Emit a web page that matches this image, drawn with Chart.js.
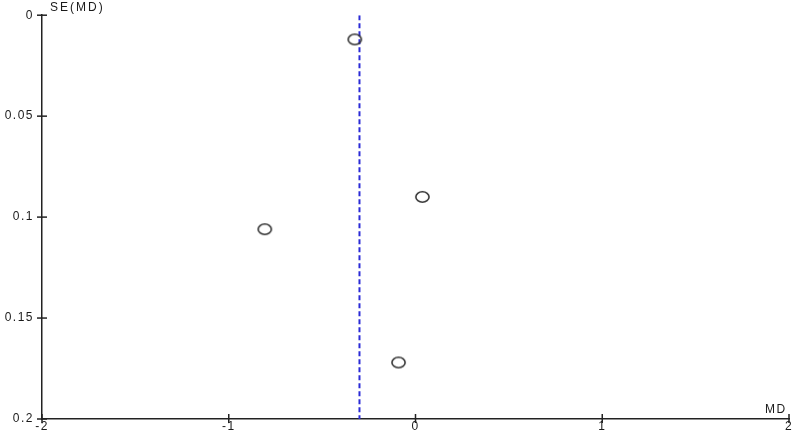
<!DOCTYPE html>
<html>
<head>
<meta charset="utf-8">
<script src="https://cdn.jsdelivr.net/npm/chart.js@4"></script>
<style>
  html, body { margin: 0; padding: 0; background: #fff; }
  #wrap { width: 797px; height: 438px; }
</style>
</head>
<body>
<div id="wrap"><canvas id="chart" width="797" height="438"></canvas></div>
<script>
// study estimates
const md = [-0.325, 0.037, -0.807, -0.091];
const seMd = [0.012, 0.090, 0.106, 0.172];
const pooledMd = -0.30;
const xTicks = [-2, -1, 0, 1, 2];
const yTicks = [0, 0.05, 0.1, 0.15, 0.2];
const yTickLabels = ['0', '0.05', '0.1', '0.15', '0.2'];

const points = md.map((x, i) => ({ x, y: seMd[i] }));
const pooledLine = [{ x: pooledMd, y: 0 }, { x: pooledMd, y: 0.2 }];

// open ellipse marker, a bit wider than tall
const marker = document.createElement('canvas');
marker.width = 17;
marker.height = 14;
(function () {
  const c = marker.getContext('2d');
  c.strokeStyle = '#333';
  c.lineWidth = 1.6;
  c.beginPath();
  c.ellipse(8.5, 7, 6.6, 5.3, 0, 0, Math.PI * 2);
  c.stroke();
})();

const fontSpec = { family: 'Arial, "Liberation Sans", sans-serif', size: 12 };

// the original text is set rather wide
const spacing = {
  id: 'spacing',
  beforeDraw(chart) { chart.ctx.letterSpacing = '1.5px'; }
};

// ticks that cross the axis line, plus the two axis captions
const extras = {
  id: 'extras',
  afterDraw(chart) {
    const ctx = chart.ctx;
    const xs = chart.scales.x, ys = chart.scales.y;
    const left = chart.chartArea.left, bottom = chart.chartArea.bottom;
    ctx.save();
    ctx.strokeStyle = '#222';
    ctx.lineWidth = 1.5;
    xTicks.forEach(v => {
      const px = xs.getPixelForValue(v);
      ctx.beginPath();
      ctx.moveTo(px, bottom - 5);
      ctx.lineTo(px, bottom + 4);
      ctx.stroke();
    });
    yTicks.forEach(v => {
      const py = ys.getPixelForValue(v);
      ctx.beginPath();
      ctx.moveTo(left - 5, py);
      ctx.lineTo(left + 5, py);
      ctx.stroke();
    });
    ctx.fillStyle = '#1a1a1a';
    ctx.font = '12px Arial, "Liberation Sans", sans-serif';
    ctx.letterSpacing = '2px';
    ctx.textBaseline = 'alphabetic';
    ctx.textAlign = 'left';
    ctx.fillText('SE(MD)', left + 8, 11);
    ctx.letterSpacing = '1.5px';
    ctx.fillText('MD', chart.chartArea.right - 24, bottom - 6);
    ctx.restore();
  }
};

new Chart(document.getElementById('chart'), {
  type: 'scatter',
  data: {
    datasets: [
      {
        label: 'Studies',
        data: points,
        pointStyle: marker,
        pointRadius: 7,
        pointHoverRadius: 7
      },
      {
        type: 'line',
        label: 'Pooled MD',
        data: pooledLine,
        borderColor: '#2a2ad6',
        borderWidth: 2,
        borderDash: [5, 3],
        pointRadius: 0,
        fill: false
      }
    ]
  },
  options: {
    responsive: false,
    animation: false,
    layout: { padding: { top: 15, right: 5, left: 0, bottom: 0 } },
    plugins: {
      legend: { display: false },
      tooltip: { enabled: false }
    },
    scales: {
      x: {
        type: 'linear',
        min: -2,
        max: 2,
        afterBuildTicks: s => { s.ticks = xTicks.map(v => ({ value: v })); },
        afterFit: s => { s.height = 19; },
        grid: { display: false, drawTicks: false, tickLength: 0 },
        border: { display: true, color: '#222', width: 1.5 },
        ticks: { color: '#1a1a1a', font: fontSpec, padding: 0, maxRotation: 0 }
      },
      y: {
        type: 'linear',
        reverse: true,
        min: 0,
        max: 0.2,
        afterBuildTicks: s => { s.ticks = yTicks.map(v => ({ value: v })); },
        afterFit: s => { s.width = 42; },
        grid: { display: false, drawTicks: false, tickLength: 0 },
        border: { display: true, color: '#222', width: 1.5 },
        ticks: {
          color: '#1a1a1a',
          font: fontSpec,
          padding: 8,
          callback: (v, i) => yTickLabels[i]
        }
      }
    }
  },
  plugins: [spacing, extras]
});
</script>
</body>
</html>
